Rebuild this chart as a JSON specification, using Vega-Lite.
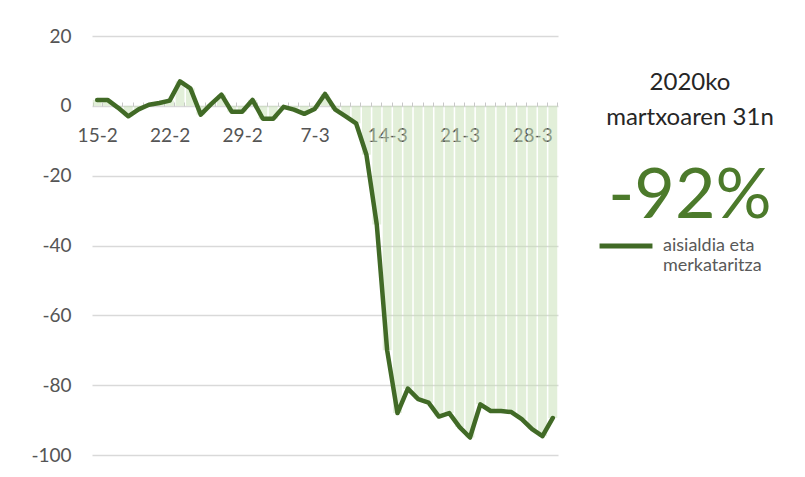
{
  "$schema": "https://vega.github.io/schema/vega-lite/v6.json",
  "autosize": "none",
  "width": 466,
  "height": 419,
  "padding": {"left": 92, "top": 36, "right": 247, "bottom": 22},
  "background": "white",
  "config": {"view": {"stroke": null}, "font": "Lato"},
  "title": {
    "text": ["2020ko", "martxoaren 31n"],
    "subtitle": "-92%",
    "anchor": "start",
    "align": "center",
    "frame": "group",
    "dx": 598,
    "dy": 205,
    "offset": 0,
    "font": "Lato",
    "fontSize": 24,
    "fontWeight": "normal",
    "color": "#262626",
    "lineHeight": 35,
    "subtitleFont": "Lato",
    "subtitleFontSize": 70,
    "subtitleColor": "#4c7a2b",
    "subtitlePadding": 33
  },
  "data": {
    "values": [
      {"d": "15-2", "v": 1.7}, {"d": "16-2", "v": 1.7}, {"d": "17-2", "v": -0.5},
      {"d": "18-2", "v": -3}, {"d": "19-2", "v": -1}, {"d": "20-2", "v": 0.3},
      {"d": "21-2", "v": 0.8}, {"d": "22-2", "v": 1.5}, {"d": "23-2", "v": 7},
      {"d": "24-2", "v": 5}, {"d": "25-2", "v": -2.5}, {"d": "26-2", "v": 0.5},
      {"d": "27-2", "v": 3.2}, {"d": "28-2", "v": -1.7}, {"d": "29-2", "v": -1.7},
      {"d": "1-3", "v": 1.7}, {"d": "2-3", "v": -3.7}, {"d": "3-3", "v": -3.7},
      {"d": "4-3", "v": -0.3}, {"d": "5-3", "v": -1.1}, {"d": "6-3", "v": -2.3},
      {"d": "7-3", "v": -0.9}, {"d": "8-3", "v": 3.4}, {"d": "9-3", "v": -1.1},
      {"d": "10-3", "v": -3}, {"d": "11-3", "v": -5}, {"d": "12-3", "v": -14},
      {"d": "13-3", "v": -34}, {"d": "14-3", "v": -70}, {"d": "15-3", "v": -88},
      {"d": "16-3", "v": -81}, {"d": "17-3", "v": -84}, {"d": "18-3", "v": -85},
      {"d": "19-3", "v": -89}, {"d": "20-3", "v": -88}, {"d": "21-3", "v": -92},
      {"d": "22-3", "v": -95}, {"d": "23-3", "v": -85.5}, {"d": "24-3", "v": -87.4},
      {"d": "25-3", "v": -87.4}, {"d": "26-3", "v": -87.7}, {"d": "27-3", "v": -89.7},
      {"d": "28-3", "v": -92.6}, {"d": "29-3", "v": -94.6}, {"d": "30-3", "v": -89.4}
    ]
  },
  "encoding": {
    "x": {
      "field": "d",
      "type": "nominal",
      "sort": null,
      "scale": {"paddingInner": 0.15, "paddingOuter": 0.075},
      "axis": {
        "title": null,
        "offset": -349,
        "domain": false,
        "ticks": true,
        "tickBand": "extent",
        "tickSize": -4,
        "tickColor": "#c8c8c8",
        "tickWidth": 1,
        "labelAngle": 0,
        "labelOverlap": false,
        "labelPadding": 24,
        "labelFont": "Lato",
        "labelFontSize": 19,
        "labelColor": "#555555",
        "labelExpr": "indexof(['15-2','22-2','29-2','7-3','14-3','21-3','28-3'], datum.value) >= 0 ? datum.value : ''"
      }
    },
    "y": {
      "field": "v",
      "type": "quantitative",
      "scale": {"domain": [-100, 20], "nice": false, "zero": false},
      "axis": {
        "title": null,
        "values": [-100, -80, -60, -40, -20, 0, 20],
        "domain": false,
        "ticks": false,
        "grid": true,
        "gridColor": "#d9d9d9",
        "gridWidth": 1.5,
        "labelPadding": 21,
        "labelFont": "Lato",
        "labelFontSize": 19,
        "labelColor": "#555555",
        "labelExpr": "toString(datum.value)"
      }
    }
  },
  "layer": [
    {
      "mark": {"type": "bar", "color": "#c5e0b4", "opacity": 0.5},
      "encoding": {"y2": {"datum": 0}}
    },
    {
      "mark": {"type": "line", "strokeWidth": 4.5, "strokeJoin": "round", "strokeCap": "round"},
      "encoding": {
        "color": {
          "datum": "aisialdia eta merkataritza",
          "scale": {"range": ["#416a26"]},
          "legend": {
            "title": null,
            "orient": "none",
            "legendX": 505,
            "legendY": 181,
            "padding": 0,
            "symbolType": "stroke",
            "symbolSize": 2800,
            "symbolStrokeWidth": 5,
            "labelOffset": 8,
            "labelFont": "Lato",
            "labelFontSize": 18,
            "labelColor": "#595959",
            "labelLimit": 300,
            "labelExpr": "['aisialdia eta', 'merkataritza']"
          }
        }
      }
    }
  ]
}
